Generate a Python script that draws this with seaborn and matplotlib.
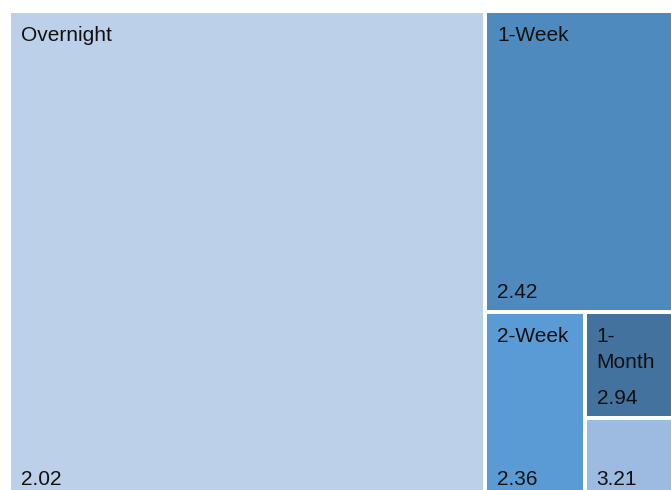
import matplotlib
matplotlib.use("Agg")
import matplotlib.pyplot as plt
from matplotlib.patches import Rectangle
import seaborn as sns

# ---- data ----
categories = ["Overnight", "1-Week", "2-Week", "1-Month", "3-Month"]
shares = [71.2, 17.7, 5.7, 3.0, 2.3]          # tile size (share, %)
rates = ["2.02", "2.42", "2.36", "2.94", "3.21"]  # displayed values
colors = ["#BDD0EA", "#4F8ABE", "#5B9BD5", "#43729E", "#9DBBE1"]

sns.set_theme(style="white")
plt.rcParams["font.family"] = ["Liberation Sans", "DejaVu Sans"]

W_PX, H_PX = 671, 490
fig = plt.figure(figsize=(W_PX / 100, H_PX / 100), dpi=100)
ax = fig.add_axes([0, 0, 1, 1])
ax.set_xlim(0, W_PX)
ax.set_ylim(H_PX, 0)
ax.axis("off")

# layout area (pixel units, extends slightly past the canvas like the original)
X0, Y0, W, H = 9, 11, 668, 488
GAP = 2.0


def worst(row, length):
    s = sum(row)
    return max(max(length ** 2 * r / s ** 2, s ** 2 / (length ** 2 * r)) for r in row)


def squarify(values, x, y, w, h):
    total = sum(values)
    vals = [v * w * h / total for v in values]
    rects = []
    while vals:
        length = min(w, h)
        row = [vals[0]]
        i = 1
        while i < len(vals) and worst(row + [vals[i]], length) <= worst(row, length):
            row.append(vals[i])
            i += 1
        vals = vals[i:]
        s = sum(row)
        if w >= h:
            cw = s / h
            cy = y
            for r in row:
                rh = r / cw
                rects.append((x, cy, cw, rh))
                cy += rh
            x += cw
            w -= cw
        else:
            rh = s / w
            cx = x
            for r in row:
                rw = r / rh
                rects.append((cx, y, rw, rh))
                cx += rw
            y += rh
            h -= rh
    return rects


rects = squarify(shares, X0, Y0, W, H)
renderer = fig.canvas.get_renderer()
FS = 15
PAD_X = 10
txt_color = "#111111"

for (x, y, w, h), cat, val, col in zip(rects, categories, rates, colors):
    ax.add_patch(Rectangle((x + GAP, y + GAP), w - 2 * GAP, h - 2 * GAP,
                           facecolor=col, edgecolor="none"))
    v = ax.text(x + GAP + PAD_X, y + h - GAP - 12, val, fontsize=FS,
                color=txt_color, va="baseline", ha="left")
    t = ax.text(x + GAP + PAD_X, y + GAP + 13, cat, fontsize=FS,
                color=txt_color, va="top", ha="left", linespacing=1.45)
    bb = t.get_window_extent(renderer)
    if bb.width > w - 2 * GAP - 2 * PAD_X:
        t.set_text(cat.replace("-", "-\n"))
        bb = t.get_window_extent(renderer)
    vb = v.get_window_extent(renderer)
    if bb.height + vb.height + 25 > h:
        t.remove()

fig.savefig("out.png", dpi=100, facecolor="white")
